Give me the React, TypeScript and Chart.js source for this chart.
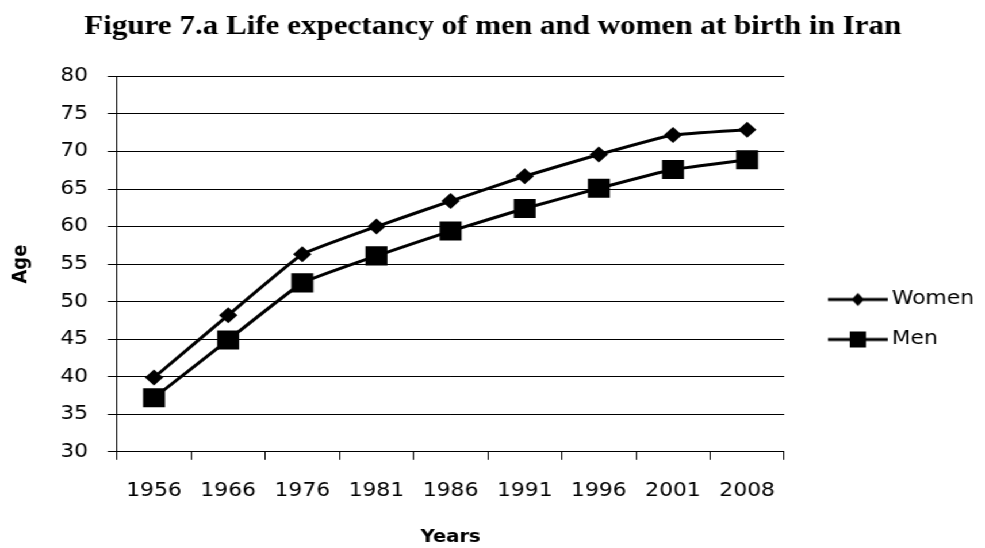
import React, { useEffect, useRef } from "react";
import { Chart, registerables } from "chart.js";

Chart.register(...registerables);

// ---- data ----
const categories = ["1956", "1966", "1976", "1981", "1986", "1991", "1996", "2001", "2008"];
const women = [39.9, 48.2, 56.3, 60.0, 63.4, 66.7, 69.6, 72.2, 72.9];
const men = [37.2, 44.9, 52.5, 56.1, 59.4, 62.4, 65.1, 67.6, 68.9];
const seriesNames = ["Women", "Men"];
const yMin = 30;
const yMax = 80;
const yStep = 5;
const titleText = "Figure 7.a Life expectancy of men and women at birth in Iran";
const xTitle = "Years";
const yTitle = "Age";

// ---- layout ----
const STRETCH = 1.15;
const W = Math.round(985 / STRETCH);
const H = 548;

function makeSwatch(kind: "diamond" | "square"): HTMLCanvasElement {
  const c = document.createElement("canvas");
  c.width = 75;
  c.height = 24;
  const g = c.getContext("2d")!;
  g.strokeStyle = "#000";
  g.lineWidth = 3;
  g.beginPath();
  g.moveTo(23, 12);
  g.lineTo(75, 12);
  g.stroke();
  g.fillStyle = "#000";
  const cx = 49;
  const cy = 12;
  if (kind === "diamond") {
    g.beginPath();
    g.moveTo(cx, cy - 6.5);
    g.lineTo(cx + 5.5, cy);
    g.lineTo(cx, cy + 6.5);
    g.lineTo(cx - 5.5, cy);
    g.closePath();
    g.fill();
  } else {
    g.fillRect(cx - 7, cy - 8, 14, 16);
  }
  return c;
}

export default function App() {
  const ref = useRef<HTMLCanvasElement | null>(null);

  useEffect(() => {
    document.body.style.margin = "0";
    const canvas = ref.current;
    if (!canvas) return;
    const swatches = [makeSwatch("diamond"), makeSwatch("square")];
    const tickFont = { family: "'DejaVu Sans', Verdana, sans-serif", size: 19 };

    const chart = new Chart(canvas, {
      type: "line",
      data: {
        labels: categories,
        datasets: [
          {
            label: seriesNames[0],
            data: women,
            borderColor: "#000",
            backgroundColor: "#000",
            borderWidth: 3,
            pointStyle: "rectRot",
            pointRadius: 8,
            pointBorderWidth: 0,
            tension: 0.1,
          },
          {
            label: seriesNames[1],
            data: men,
            borderColor: "#000",
            backgroundColor: "#000",
            borderWidth: 3,
            pointStyle: "rect",
            pointRadius: 13.5,
            pointBorderWidth: 0,
            tension: 0.1,
          },
        ],
      },
      options: {
        responsive: false,
        animation: false,
        devicePixelRatio: 1,
        layout: { padding: { left: 0, right: 0, top: 0, bottom: 0 } },
        plugins: {
          tooltip: { enabled: false },
          title: {
            display: true,
            text: titleText,
            color: "#000",
            font: { family: "'Liberation Serif', 'Times New Roman', serif", size: 27, weight: "bold", lineHeight: 1.2 },
            padding: { top: 11, bottom: 33 },
          },
          legend: {
            display: true,
            position: "right",
            align: "center",
            title: { display: true, text: "", font: { size: 10, lineHeight: 1 }, padding: { top: 81, bottom: 0 } },
            labels: {
              color: "#000",
              font: { family: "'DejaVu Sans', Verdana, sans-serif", size: 19 },
              usePointStyle: true,
              pointStyleWidth: 63,
              padding: 21,
              generateLabels: (ch: any) => {
                const items = Chart.defaults.plugins.legend.labels.generateLabels(ch);
                items.forEach((it: any, i: number) => {
                  it.pointStyle = swatches[i];
                  it.fontColor = "#000";
                });
                return items;
              },
            },
          },
        },
        scales: {
          x: {
            offset: true,
            grid: {
              display: true,
              drawOnChartArea: false,
              offset: true,
              drawTicks: true,
              tickLength: 8,
              color: "#000",
              lineWidth: 1,
            },
            border: { display: true, color: "#000", width: 1 },
            ticks: { color: "#000", font: tickFont, padding: 20, maxRotation: 0, autoSkip: false },
            title: {
              display: true,
              text: xTitle,
              color: "#000",
              font: { family: "'DejaVu Sans', Verdana, sans-serif", size: 17, weight: "bold", lineHeight: 1.2 },
              padding: { top: 5, bottom: 0 },
            },
          },
          y: {
            min: yMin,
            max: yMax,
            afterFit: (scale: any) => {
              scale.width = 101.7;
            },
            grid: { color: "#000", lineWidth: 1, tickLength: 8, drawTicks: true },
            border: { display: true, color: "#000", width: 1 },
            ticks: { stepSize: yStep, color: "#000", font: tickFont, padding: 17 },
            title: {
              display: true,
              text: yTitle,
              color: "#000",
              font: { family: "'DejaVu Sans', Verdana, sans-serif", size: 18, weight: "bold", lineHeight: 1.2 },
              padding: { top: 8, bottom: 0 },
            },
          },
        },
      },
    });
    return () => chart.destroy();
  }, []);

  return (
    <div
      style={{
        position: "fixed",
        left: 0,
        top: 0,
        width: W,
        height: H,
        transform: `scaleX(${STRETCH})`,
        transformOrigin: "0 0",
        background: "#fff",
      }}
    >
      <canvas ref={ref} width={W} height={H} style={{ display: "block" }} />
    </div>
  );
}
